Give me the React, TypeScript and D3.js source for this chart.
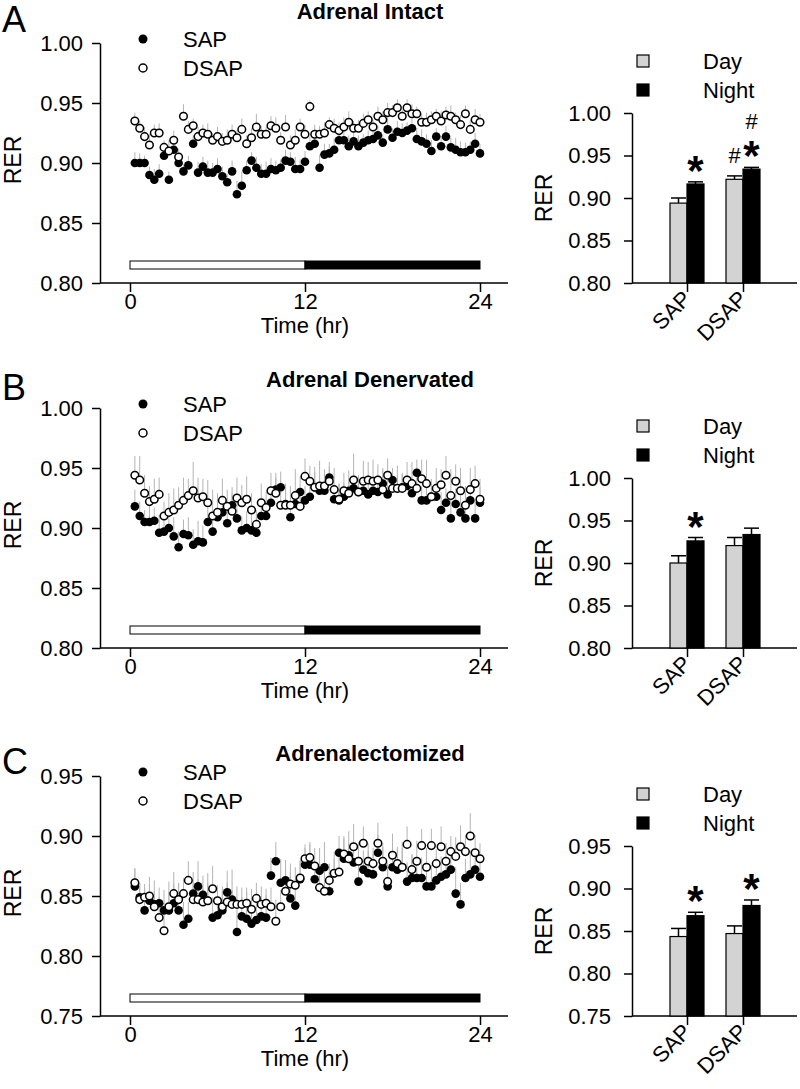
import React, { useEffect, useRef } from 'react';
import * as d3 from 'd3';

const FONT = "'Liberation Sans', Arial, Helvetica, sans-serif";

// 24 h recording, one bin every 20 min
const timeBins = d3.range(1, 73).map((k) => k / 3);
const hourTicks = [0, 12, 24];
const groups = ['SAP', 'DSAP'];
const phases = ['Day', 'Night'];
const letters = ['A', 'B', 'C'];
const titles = ['Adrenal Intact', 'Adrenal Denervated', 'Adrenalectomized'];
const rerTicksHigh = [0.8, 0.85, 0.9, 0.95, 1.0];
const rerTicksLow = [0.75, 0.8, 0.85, 0.9, 0.95];

// A - adrenal intact
const intactSap = [
  0.900, 0.900, 0.900, 0.890, 0.886, 0.891, 0.906, 0.886, 0.911, 0.900, 0.893, 0.898,
  0.916, 0.892, 0.897, 0.892, 0.892, 0.895, 0.889, 0.884, 0.893, 0.874, 0.881, 0.894,
  0.902, 0.896, 0.891, 0.891, 0.895, 0.894, 0.896, 0.902, 0.901, 0.895, 0.895, 0.901,
  0.914, 0.916, 0.896, 0.907, 0.908, 0.911, 0.919, 0.919, 0.914, 0.918, 0.914, 0.917,
  0.919, 0.920, 0.923, 0.917, 0.928, 0.921, 0.926, 0.925, 0.927, 0.929, 0.920, 0.918,
  0.916, 0.910, 0.922, 0.914, 0.922, 0.913, 0.911, 0.909, 0.909, 0.911, 0.916, 0.908,
];
const intactDsap = [
  0.935, 0.929, 0.922, 0.915, 0.925, 0.925, 0.913, 0.910, 0.919, 0.905, 0.939, 0.928,
  0.931, 0.922, 0.925, 0.924, 0.919, 0.922, 0.918, 0.919, 0.924, 0.921, 0.928, 0.916,
  0.921, 0.930, 0.924, 0.924, 0.931, 0.929, 0.919, 0.930, 0.915, 0.919, 0.930, 0.924,
  0.947, 0.924, 0.924, 0.925, 0.932, 0.929, 0.927, 0.930, 0.934, 0.929, 0.929, 0.933,
  0.936, 0.930, 0.939, 0.936, 0.942, 0.942, 0.946, 0.939, 0.946, 0.941, 0.941, 0.934,
  0.934, 0.936, 0.939, 0.935, 0.940, 0.939, 0.936, 0.932, 0.941, 0.928, 0.936, 0.934,
];
// SEM in thousandths
const intactSapSem = [
  9, 8, 6, 7, 9, 8, 10, 7, 8, 9, 6, 8, 7, 9, 8, 10, 8, 9, 8, 7, 9, 11, 12, 8,
  7, 9, 8, 10, 9, 8, 7, 9, 8, 10, 8, 9, 8, 7, 11, 9, 8, 10, 7, 8, 9, 8, 9, 7,
  8, 9, 8, 7, 10, 8, 9, 8, 7, 8, 9, 10, 8, 9, 7, 8, 9, 8, 10, 9, 8, 7, 9, 8,
];
const intactDsapSem = [
  7, 6, 8, 9, 7, 8, 6, 9, 8, 7, 10, 7, 6, 8, 7, 9, 6, 8, 7, 9, 8, 6, 9, 7,
  8, 11, 7, 6, 8, 9, 7, 10, 8, 9, 7, 8, 5, 8, 7, 9, 6, 8, 7, 8, 9, 6, 7, 8,
  7, 6, 8, 7, 8, 6, 7, 5, 7, 8, 6, 7, 8, 7, 6, 8, 7, 9, 6, 8, 7, 8, 9, 7,
];
const intactBars = [0.894, 0.9165, 0.922, 0.934]; // SAP day, SAP night, DSAP day, DSAP night
const intactBarSem = [0.006, 0.0025, 0.004, 0.002];
const intactMarks = [
  { group: 'SAP', phase: 'Night', signs: ['*'] },
  { group: 'DSAP', phase: 'Day', signs: ['#'] },
  { group: 'DSAP', phase: 'Night', signs: ['*', '#'] },
];

// B - adrenal denervated
const denervSap = [
  0.918, 0.910, 0.905, 0.905, 0.906, 0.896, 0.897, 0.900, 0.893, 0.884, 0.895, 0.894,
  0.886, 0.889, 0.888, 0.905, 0.897, 0.909, 0.913, 0.904, 0.919, 0.908, 0.898, 0.900,
  0.898, 0.896, 0.910, 0.910, 0.921, 0.932, 0.934, 0.920, 0.909, 0.920, 0.930, 0.923,
  0.926, 0.934, 0.931, 0.931, 0.942, 0.924, 0.923, 0.926, 0.931, 0.933, 0.930, 0.931,
  0.928, 0.931, 0.930, 0.937, 0.928, 0.940, 0.933, 0.934, 0.935, 0.929, 0.946, 0.923,
  0.923, 0.926, 0.926, 0.915, 0.921, 0.908, 0.920, 0.913, 0.908, 0.923, 0.908, 0.921,
];
const denervDsap = [
  0.944, 0.940, 0.929, 0.922, 0.924, 0.928, 0.910, 0.913, 0.915, 0.919, 0.923, 0.927,
  0.931, 0.925, 0.926, 0.921, 0.910, 0.913, 0.923, 0.918, 0.914, 0.925, 0.921, 0.924,
  0.915, 0.903, 0.921, 0.917, 0.931, 0.929, 0.919, 0.919, 0.919, 0.927, 0.918, 0.943,
  0.939, 0.934, 0.935, 0.935, 0.939, 0.932, 0.924, 0.931, 0.929, 0.940, 0.930, 0.939,
  0.940, 0.939, 0.940, 0.932, 0.944, 0.933, 0.933, 0.933, 0.940, 0.937, 0.933, 0.941,
  0.937, 0.926, 0.933, 0.936, 0.944, 0.927, 0.939, 0.931, 0.919, 0.932, 0.937, 0.924,
];
const denervSapSem = [
  14, 12, 10, 13, 11, 15, 12, 14, 16, 13, 12, 15, 13, 17, 14, 12, 15, 11, 14, 13, 10, 16, 12, 14,
  15, 13, 11, 12, 14, 10, 13, 12, 15, 11, 13, 12, 10, 12, 11, 13, 9, 12, 14, 11, 10, 13, 12, 11,
  12, 10, 11, 13, 12, 10, 11, 12, 9, 13, 11, 12, 14, 12, 13, 15, 12, 16, 13, 14, 15, 12, 16, 13,
];
const denervDsapSem = [
  16, 20, 15, 13, 17, 14, 12, 16, 18, 15, 19, 14, 24, 17, 15, 19, 22, 16, 18, 14, 20, 17, 15, 19,
  14, 12, 16, 13, 15, 17, 20, 18, 16, 22, 14, 15, 13, 17, 21, 14, 16, 18, 13, 15, 19, 22, 14, 17,
  15, 18, 13, 16, 14, 17, 19, 12, 15, 18, 14, 16, 20, 15, 17, 13, 16, 22, 14, 19, 16, 18, 15, 17,
];
const denervBars = [0.9, 0.926, 0.9205, 0.9335];
const denervBarSem = [0.0085, 0.004, 0.0095, 0.0075];
const denervMarks = [{ group: 'SAP', phase: 'Night', signs: ['*'] }];

// C - adrenalectomized
const adxSap = [
  0.858, 0.849, 0.838, 0.846, 0.843, 0.844, 0.838, 0.838, 0.844, 0.838, 0.826, 0.831,
  0.852, 0.858, 0.851, 0.846, 0.832, 0.834, 0.838, 0.853, 0.847, 0.820, 0.833, 0.831,
  0.827, 0.830, 0.833, 0.832, 0.867, 0.879, 0.861, 0.863, 0.848, 0.842, 0.864, 0.876,
  0.876, 0.864, 0.871, 0.874, 0.854, 0.869, 0.886, 0.881, 0.884, 0.878, 0.862, 0.872,
  0.869, 0.868, 0.886, 0.874, 0.858, 0.874, 0.872, 0.874, 0.862, 0.865, 0.865, 0.865,
  0.858, 0.858, 0.863, 0.866, 0.868, 0.872, 0.852, 0.843, 0.865, 0.868, 0.872, 0.866,
];
const adxDsap = [
  0.861, 0.847, 0.849, 0.850, 0.841, 0.832, 0.821, 0.841, 0.852, 0.847, 0.852, 0.863,
  0.847, 0.847, 0.845, 0.846, 0.856, 0.846, 0.841, 0.845, 0.843, 0.843, 0.843, 0.844,
  0.839, 0.848, 0.843, 0.844, 0.841, 0.829, 0.841, 0.854, 0.860, 0.859, 0.865, 0.881,
  0.882, 0.875, 0.857, 0.854, 0.863, 0.869, 0.870, 0.885, 0.881, 0.891, 0.879, 0.894,
  0.879, 0.877, 0.894, 0.879, 0.862, 0.884, 0.877, 0.874, 0.893, 0.872, 0.879, 0.892,
  0.874, 0.892, 0.877, 0.891, 0.879, 0.887, 0.883, 0.891, 0.887, 0.900, 0.886, 0.881,
];
const adxSapSem = [
  15, 12, 18, 14, 20, 13, 17, 24, 16, 22, 19, 14, 18, 21, 16, 23, 17, 15, 20, 18, 25, 19, 16, 22,
  18, 21, 17, 19, 15, 16, 20, 17, 22, 18, 16, 14, 17, 15, 19, 21, 16, 18, 14, 17, 20, 15, 18, 16,
  19, 17, 15, 20, 16, 18, 17, 21, 16, 19, 15, 17, 16, 18, 20, 17, 15, 19, 22, 18, 16, 20, 17, 15,
];
const adxDsapSem = [
  12, 14, 11, 16, 13, 17, 15, 12, 18, 14, 13, 16, 14, 17, 12, 15, 19, 13, 14, 16, 12, 15, 14, 13,
  17, 13, 15, 12, 16, 18, 14, 20, 17, 15, 14, 12, 13, 15, 18, 16, 14, 12, 17, 15, 13, 19, 16, 14,
  15, 13, 17, 12, 16, 18, 14, 16, 15, 13, 17, 14, 16, 14, 12, 17, 15, 13, 16, 18, 14, 19, 15, 13,
];
const adxBars = [0.8435, 0.868, 0.847, 0.88];
const adxBarSem = [0.0095, 0.004, 0.009, 0.0065];
const adxMarks = [
  { group: 'SAP', phase: 'Night', signs: ['*'] },
  { group: 'DSAP', phase: 'Night', signs: ['*'] },
];

const panels = [
  { sap: intactSap, sapSem: intactSapSem, dsap: intactDsap, dsapSem: intactDsapSem, bars: intactBars, barSem: intactBarSem, marks: intactMarks, ticks: rerTicksHigh },
  { sap: denervSap, sapSem: denervSapSem, dsap: denervDsap, dsapSem: denervDsapSem, bars: denervBars, barSem: denervBarSem, marks: denervMarks, ticks: rerTicksHigh },
  { sap: adxSap, sapSem: adxSapSem, dsap: adxDsap, dsapSem: adxDsapSem, bars: adxBars, barSem: adxBarSem, marks: adxMarks, ticks: rerTicksLow },
];

const axisShift = [0, 365, 733];
const headShift = [0, 368, 742];

const styleAxis = (g: any) => {
  g.attr('font-size', 22).attr('font-family', FONT);
  g.selectAll('line,path').attr('stroke-width', 1.5);
};

const drawFigure = (element: SVGSVGElement) => {
  const svg = d3.select(element);
  svg.selectAll('*').remove();
  svg.attr('font-family', FONT);

  panels.forEach((p, k) => {
    const dy = axisShift[k];
    const hy = headShift[k];
    const domain = d3.extent(p.ticks) as [number, number];
    const fmt = d3.format('.2f');

    // ---------- time course ----------
    const x = d3.scaleLinear().domain([0, 24]).range([130, 480]);
    const y = d3.scaleLinear().domain(domain).range([283 + dy, 43 + dy]);

    svg.append('text').attr('x', 2).attr('y', 32 + hy).attr('font-size', 36).text(letters[k]);
    svg.append('text')
      .attr('x', 370).attr('y', 19 + hy)
      .attr('font-size', 22).attr('font-weight', 'bold').attr('text-anchor', 'middle')
      .text(titles[k]);

    const yAxis = svg.append('g').attr('transform', 'translate(100,0)')
      .call(d3.axisLeft(y).tickValues(p.ticks).tickFormat(fmt).tickSize(8).tickSizeOuter(0).tickPadding(9));
    styleAxis(yAxis);

    const xAxis = svg.append('g').attr('transform', `translate(0,${283 + dy})`)
      .call(d3.axisBottom(x).tickValues(hourTicks).tickSize(9).tickSizeOuter(0).tickPadding(1));
    xAxis.select('.domain').remove();
    styleAxis(xAxis);
    svg.append('line')
      .attr('x1', 100).attr('x2', 508).attr('y1', 283 + dy).attr('y2', 283 + dy)
      .attr('stroke', '#000').attr('stroke-width', 1.5);

    svg.append('text').attr('x', x(12)).attr('y', 333 + dy)
      .attr('text-anchor', 'middle').attr('font-size', 22).text('Time (hr)');
    svg.append('text').attr('transform', `translate(21,${160 + dy}) rotate(-90)`)
      .attr('text-anchor', 'middle').attr('font-size', 23).text('RER');

    // light / dark bar
    svg.append('rect').attr('x', x(0)).attr('y', 261 + dy).attr('width', x(12) - x(0)).attr('height', 8)
      .attr('fill', '#fff').attr('stroke', '#000').attr('stroke-width', 1);
    svg.append('rect').attr('x', x(12)).attr('y', 261 + dy).attr('width', x(24) - x(12)).attr('height', 8)
      .attr('fill', '#000').attr('stroke', '#000').attr('stroke-width', 1);

    const sapPts = timeBins.map((t, i) => ({ t, v: p.sap[i], e: p.sapSem[i] / 1000 }));
    const dsapPts = timeBins.map((t, i) => ({ t, v: p.dsap[i], e: p.dsapSem[i] / 1000 }));

    svg.append('g').selectAll('line').data([...sapPts, ...dsapPts]).join('line')
      .attr('x1', (d) => x(d.t)).attr('x2', (d) => x(d.t))
      .attr('y1', (d) => y(d.v)).attr('y2', (d) => y(d.v + d.e))
      .attr('stroke', '#b4b4b4').attr('stroke-width', 1);

    svg.append('g').selectAll('circle').data(sapPts).join('circle')
      .attr('cx', (d) => x(d.t)).attr('cy', (d) => y(d.v)).attr('r', 4.3).attr('fill', '#000');
    svg.append('g').selectAll('circle').data(dsapPts).join('circle')
      .attr('cx', (d) => x(d.t)).attr('cy', (d) => y(d.v)).attr('r', 3.8)
      .attr('fill', '#fff').attr('stroke', '#000').attr('stroke-width', 1.5);

    // legend
    svg.append('circle').attr('cx', 143).attr('cy', 39 + dy).attr('r', 4.5).attr('fill', '#000');
    svg.append('text').attr('x', 183).attr('y', 39 + dy).attr('dy', '0.35em').attr('font-size', 22).text(groups[0]);
    svg.append('circle').attr('cx', 143).attr('cy', 68 + dy).attr('r', 4)
      .attr('fill', '#fff').attr('stroke', '#000').attr('stroke-width', 1.5);
    svg.append('text').attr('x', 183).attr('y', 68 + dy).attr('dy', '0.35em').attr('font-size', 22).text(groups[1]);

    // ---------- day / night bars ----------
    const xb = d3.scalePoint().domain(groups).range([687, 743]);
    const xp = d3.scaleBand().domain(phases).range([-17, 17]);
    const yb = d3.scaleLinear().domain(domain).range([283 + dy, 113 + dy]);
    const bw = xp.bandwidth();

    const ybAxis = svg.append('g').attr('transform', 'translate(632,0)')
      .call(d3.axisLeft(yb).tickValues(p.ticks).tickFormat(fmt).tickSize(8).tickSizeOuter(0).tickPadding(13));
    styleAxis(ybAxis);

    const xbAxis = svg.append('g').attr('transform', `translate(0,${283 + dy})`)
      .call(d3.axisBottom(xb).tickSize(9).tickSizeOuter(0));
    xbAxis.select('.domain').remove();
    styleAxis(xbAxis);
    xbAxis.selectAll('text')
      .attr('x', null).attr('y', null).attr('dy', null)
      .attr('text-anchor', 'end')
      .attr('transform', 'translate(5,17) rotate(-45)');
    svg.append('line')
      .attr('x1', 632).attr('x2', 797).attr('y1', 283 + dy).attr('y2', 283 + dy)
      .attr('stroke', '#000').attr('stroke-width', 1.5);

    svg.append('text').attr('transform', `translate(552,${198 + dy}) rotate(-90)`)
      .attr('text-anchor', 'middle').attr('font-size', 23).text('RER');

    const bars = groups.flatMap((g, gi) =>
      phases.map((ph, pi) => ({ g, ph, v: p.bars[gi * 2 + pi], e: p.barSem[gi * 2 + pi] })));
    const bx = (d: any) => (xb(d.g) as number) + (xp(d.ph) as number);

    svg.append('g').selectAll('rect').data(bars).join('rect')
      .attr('x', bx).attr('width', bw)
      .attr('y', (d) => yb(d.v)).attr('height', (d) => yb(domain[0]) - yb(d.v))
      .attr('fill', (d) => (d.ph === 'Day' ? '#d3d3d3' : '#000'))
      .attr('stroke', '#000').attr('stroke-width', 1.2);

    const err = svg.append('g').attr('stroke', '#000').attr('stroke-width', 1.5);
    err.selectAll('line.v').data(bars).join('line').attr('class', 'v')
      .attr('x1', (d) => bx(d) + bw / 2).attr('x2', (d) => bx(d) + bw / 2)
      .attr('y1', (d) => yb(d.v)).attr('y2', (d) => yb(d.v + d.e));
    err.selectAll('line.c').data(bars).join('line').attr('class', 'c')
      .attr('x1', (d) => bx(d) + 1).attr('x2', (d) => bx(d) + bw - 1)
      .attr('y1', (d) => yb(d.v + d.e)).attr('y2', (d) => yb(d.v + d.e));

    // significance marks
    p.marks.forEach((m) => {
      const d = bars.find((b) => b.g === m.group && b.ph === m.phase)!;
      const cx = bx(d) + bw / 2;
      m.signs.forEach((s, si) => {
        const cy = yb(d.v + d.e) - 21 - si * 25;
        if (s === '*') {
          svg.append('text').attr('x', cx).attr('y', cy + 24).attr('text-anchor', 'middle')
            .attr('font-size', 42).attr('font-weight', 'bold').text('*');
        } else {
          svg.append('text').attr('x', cx).attr('y', cy + 8).attr('text-anchor', 'middle')
            .attr('font-size', 22).text('#');
        }
      });
    });

    // legend
    phases.forEach((ph, i) => {
      svg.append('rect').attr('x', 637).attr('y', 55 + i * 29 + dy).attr('width', 12).attr('height', 12)
        .attr('fill', ph === 'Day' ? '#d3d3d3' : '#000').attr('stroke', '#000').attr('stroke-width', 1.2);
      svg.append('text').attr('x', 703).attr('y', 61 + i * 29 + dy).attr('dy', '0.35em')
        .attr('font-size', 22).text(ph);
    });
  });
};

export default function App() {
  const ref = useRef<SVGSVGElement>(null);

  useEffect(() => {
    if (ref.current) {
      drawFigure(ref.current);
    }
  }, []);

  return (
    <svg
      ref={ref}
      width={800}
      height={1089}
      style={{ position: 'absolute', left: 0, top: 0, background: '#fff' }}
    />
  );
}
